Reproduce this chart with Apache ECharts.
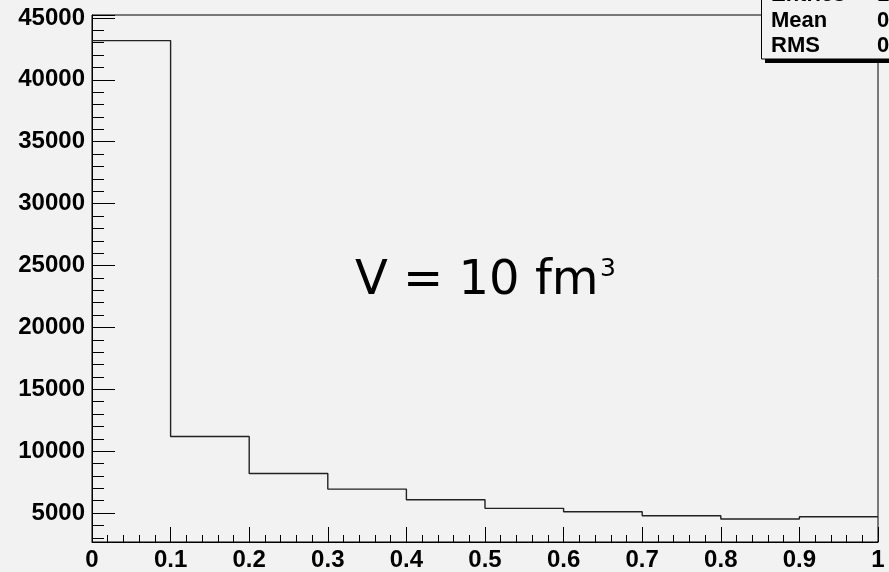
<!DOCTYPE html>
<html>
<head>
<meta charset="utf-8">
<script src="https://cdn.jsdelivr.net/npm/echarts@6/dist/echarts.min.js"></script>
<style>
  html, body { margin: 0; padding: 0; background: #f2f2f2; }
  #chart { width: 889px; height: 572px; }
</style>
</head>
<body>
<div id="chart"></div>
<script>
// Histogram bin edges and contents
const binEdges = [0, 0.1, 0.2, 0.3, 0.4, 0.5, 0.6, 0.7, 0.8, 0.9, 1.0];
const counts = [43170, 11185, 8200, 6935, 6073, 5380, 5105, 4780, 4516, 4700];

// Axis ranges and tick steps
const xRange = [0, 1];
const xTickStep = 0.1;
const yRange = [2660, 45240];
const yTickStep = 5000;

// Statistics box entries
const statLabels = ['Entries', 'Mean', 'RMS'];
const statValues = ['1e+05', '0.2921', '0.2897'];

const annotation = 'V = 10 fm';
const annotationSup = '3';

// Step outline: one point at each bin's left edge, plus the closing right edge
const stepData = counts.map((c, i) => [binEdges[i], c]);
stepData.push([binEdges[binEdges.length - 1], counts[counts.length - 1]]);

const labelFont = {
  fontFamily: '"Liberation Sans", Arial, sans-serif',
  fontWeight: 'bold',
  fontSize: 24,
  color: '#000'
};

const statGraphics = [];
statGraphics.push({
  type: 'rect',
  shape: { x: 765, y: 59, width: 200, height: 4 },
  style: { fill: '#000' },
  z: 10
});
statGraphics.push({
  type: 'rect',
  shape: { x: 761.5, y: -10, width: 200, height: 69 },
  style: { fill: '#f2f2f2', stroke: '#000', lineWidth: 1 },
  z: 11
});
statLabels.forEach((lab, i) => {
  const yMid = -5 + i * 25.5;
  statGraphics.push({
    type: 'text', x: 771, y: yMid, z: 12,
    style: {
      text: lab, fill: '#000', verticalAlign: 'middle', align: 'left',
      font: 'bold 22px "Liberation Sans", Arial, sans-serif'
    }
  });
  statGraphics.push({
    type: 'text', x: 877, y: yMid, z: 12,
    style: {
      text: statValues[i], fill: '#000', verticalAlign: 'middle', align: 'left',
      font: 'bold 22px "Liberation Sans", Arial, sans-serif'
    }
  });
});

const chart = echarts.init(document.getElementById('chart'), null, { renderer: 'canvas' });
chart.setOption({
  backgroundColor: '#f2f2f2',
  animation: false,
  grid: {
    left: 92, right: 11, top: 15, bottom: 29,
    show: true, borderColor: '#000', borderWidth: 1, backgroundColor: 'transparent'
  },
  xAxis: {
    type: 'value',
    min: xRange[0], max: xRange[1], interval: xTickStep,
    axisLine: { show: true, onZero: false, lineStyle: { color: '#000', width: 1 } },
    axisTick: { show: true, inside: true, length: 15, lineStyle: { color: '#000', width: 1 } },
    minorTick: { show: true, splitNumber: 5, length: 7, lineStyle: { color: '#000', width: 1 } },
    splitLine: { show: false },
    axisLabel: Object.assign({ margin: 6, showMinLabel: true, showMaxLabel: true,
      formatter: v => String(Math.round(v * 10) / 10) }, labelFont)
  },
  yAxis: {
    type: 'value',
    min: yRange[0], max: yRange[1],
    minInterval: yTickStep, maxInterval: yTickStep, splitNumber: 9,
    axisLine: { show: true, onZero: false, lineStyle: { color: '#000', width: 1 } },
    axisTick: { show: true, inside: true, length: 23, lineStyle: { color: '#000', width: 1 } },
    minorTick: { show: true, splitNumber: 5, length: 12, lineStyle: { color: '#000', width: 1 } },
    splitLine: { show: false },
    axisLabel: Object.assign({ margin: 7, showMinLabel: false, showMaxLabel: false,
      formatter: v => String(Math.round(v)) }, labelFont)
  },
  series: [{
    type: 'line',
    step: 'end',
    data: stepData,
    symbol: 'none',
    clip: true,
    lineStyle: { color: '#222', width: 1.4 }
  }],
  graphic: [
    {
      type: 'text', x: 355, y: 282, z: 5,
      style: {
        text: annotation, fill: '#000', verticalAlign: 'middle', align: 'left',
        font: '48px "DejaVu Sans", sans-serif'
      }
    },
    {
      type: 'text', x: 600, y: 257, z: 5,
      style: {
        text: annotationSup, fill: '#000', verticalAlign: 'top', align: 'left',
        font: '25px "DejaVu Sans", sans-serif'
      }
    }
  ].concat(statGraphics)
});
</script>
</body>
</html>
